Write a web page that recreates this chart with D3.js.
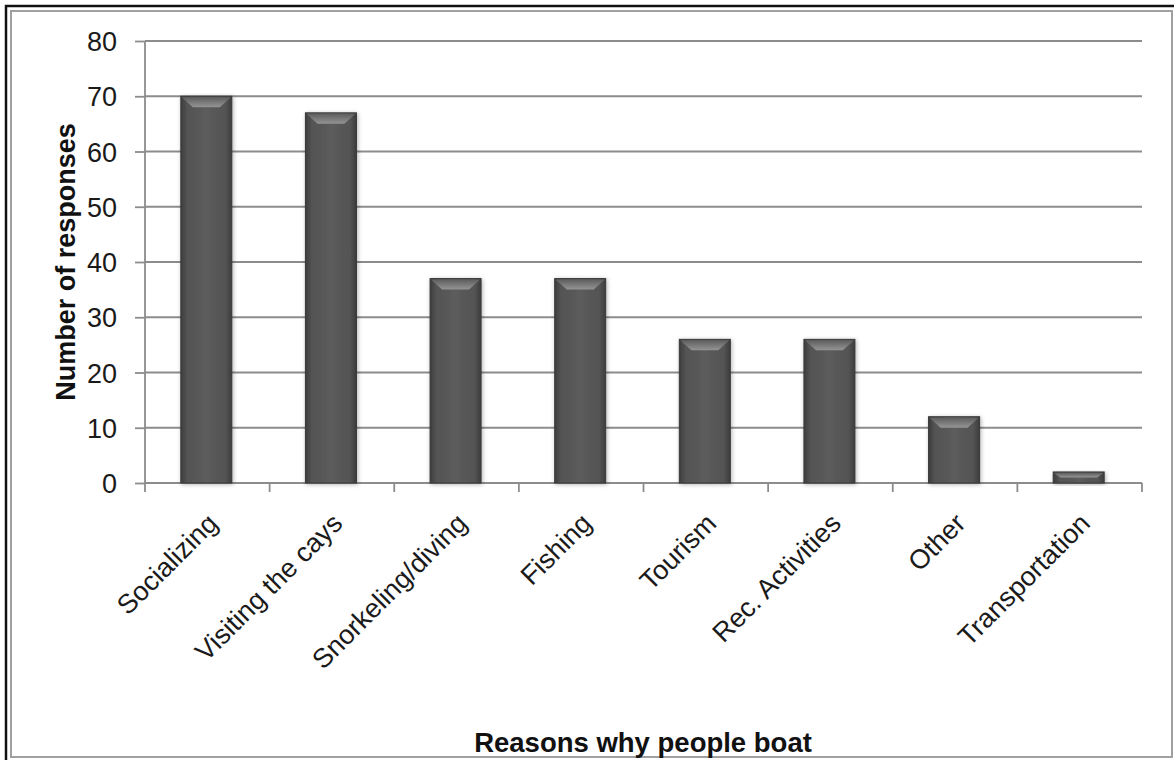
<!DOCTYPE html>
<html>
<head>
<meta charset="utf-8">
<script src="https://cdn.jsdelivr.net/npm/d3@7"></script>
<style>
html,body{margin:0;padding:0;background:#fff;}
svg{display:block;font-family:"Liberation Sans",Arial,sans-serif;}
</style>
</head>
<body>
<svg id="chart" width="1174" height="760"></svg>
<script>
const categories = ["Socializing","Visiting the cays","Snorkeling/diving","Fishing","Tourism","Rec. Activities","Other","Transportation"];
const values = [70,67,37,37,26,26,12,2];
const yTicks = [0,10,20,30,40,50,60,70,80];
const yTitle = "Number of responses";
const xTitle = "Reasons why people boat";

const svg = d3.select("#chart");
const m = {left:145, right:1142, top:41, bottom:483};

// frame
svg.append("rect").attr("x",11).attr("y",11).attr("width",1161).attr("height",746)
  .attr("fill","#fff").attr("stroke","#a0a0a0").attr("stroke-width",2);
svg.append("path").attr("d","M6,760 V6 H1174").attr("fill","none").attr("stroke","#111").attr("stroke-width",2.5);

const defs = svg.append("defs");
const g1 = defs.append("linearGradient").attr("id","barGrad").attr("x1","0").attr("x2","1").attr("y1","0").attr("y2","0");
g1.append("stop").attr("offset","0").attr("stop-color","#3c3c3c");
g1.append("stop").attr("offset","0.12").attr("stop-color","#535353");
g1.append("stop").attr("offset","0.5").attr("stop-color","#5c5c5c");
g1.append("stop").attr("offset","0.88").attr("stop-color","#535353");
g1.append("stop").attr("offset","1").attr("stop-color","#3c3c3c");
const g2 = defs.append("linearGradient").attr("id","capGrad").attr("x1","0").attr("x2","0").attr("y1","0").attr("y2","1");
g2.append("stop").attr("offset","0").attr("stop-color","#5e5e5e");
g2.append("stop").attr("offset","1").attr("stop-color","#959595");
const f = defs.append("filter").attr("id","shadow").attr("x","-20%").attr("y","-10%").attr("width","140%").attr("height","130%");
f.append("feDropShadow").attr("dx",1).attr("dy",1).attr("stdDeviation",2).attr("flood-color","#000").attr("flood-opacity",0.3);

const x = d3.scaleBand().domain(categories).range([m.left, m.right]).paddingInner(0).paddingOuter(0);
const y = d3.scaleLinear().domain([0,80]).range([m.bottom, m.top]);

// gridlines
svg.append("g").selectAll("line").data(yTicks.filter(t=>t>0)).join("line")
  .attr("x1",m.left).attr("x2",m.right).attr("y1",d=>y(d)).attr("y2",d=>y(d))
  .attr("stroke","#8c8c8c").attr("stroke-width",1.8);

// y axis
const yAxis = svg.append("g").attr("transform",`translate(${m.left},0)`)
  .call(d3.axisLeft(y).tickValues(yTicks).tickSize(10).tickPadding(18));
yAxis.select(".domain").attr("stroke","#8c8c8c").attr("stroke-width",1.8).attr("d",`M0,${m.top}V${m.bottom}`);
yAxis.selectAll(".tick line").attr("stroke","#8c8c8c").attr("stroke-width",1.8);
yAxis.selectAll(".tick text").attr("font-size",27).attr("fill","#1a1a1a")
  .attr("font-family","Liberation Sans, Arial, sans-serif")
  .attr("dy","0.36em");

// x axis
svg.append("line").attr("x1",m.left).attr("x2",m.right).attr("y1",m.bottom).attr("y2",m.bottom)
  .attr("stroke","#8c8c8c").attr("stroke-width",1.8);
const bounds = categories.map(c=>x(c)).concat([x(categories[categories.length-1])+x.bandwidth()]);
svg.append("g").selectAll("line").data(bounds).join("line")
  .attr("x1",d=>d).attr("x2",d=>d).attr("y1",m.bottom).attr("y2",m.bottom+9)
  .attr("stroke","#8c8c8c").attr("stroke-width",1.8);

// bars
const bw = 51;
const bars = svg.append("g").selectAll("g").data(categories).join("g");
bars.append("rect")
  .attr("x",(d)=>x(d)+x.bandwidth()/2-bw/2 - 1)
  .attr("y",(d,i)=>y(values[i]))
  .attr("width",bw).attr("height",(d,i)=>y(0)-y(values[i]))
  .attr("fill","url(#barGrad)").attr("stroke","#3a3a3a").attr("stroke-width",1)
  .attr("filter","url(#shadow)");
bars.append("path")
  .attr("d",(d,i)=>{
    const x0 = x(d)+x.bandwidth()/2-bw/2 - 1, y0 = y(values[i]);
    const h = Math.min(11, (y(0)-y0)/2);
    const ins = Math.min(11, h*1.1);
    return `M${x0+1},${y0+1} H${x0+bw-1} L${x0+bw-1-ins},${y0+h} H${x0+1+ins} Z`;
  })
  .attr("fill","url(#capGrad)");

// x labels
svg.append("g").selectAll("text").data(categories).join("text")
  .attr("transform",d=>`translate(${x(d)+x.bandwidth()/2+12},${m.bottom+42}) rotate(-45)`)
  .attr("text-anchor","end").attr("font-size",27).attr("fill","#1a1a1a")
  .text(d=>d);

// titles
svg.append("text").attr("transform",`translate(75,${(m.top+m.bottom)/2}) rotate(-90)`)
  .attr("text-anchor","middle").attr("font-size",27).attr("font-weight","bold").attr("fill","#111")
  .text(yTitle);
svg.append("text").attr("x",643).attr("y",752)
  .attr("text-anchor","middle").attr("font-size",27.5).attr("font-weight","bold").attr("fill","#111")
  .text(xTitle);
</script>
</body>
</html>
